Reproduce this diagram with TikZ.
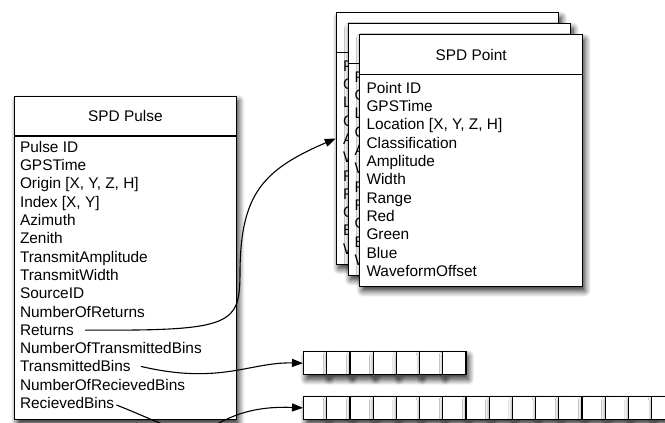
\documentclass[tikz,border=0pt]{standalone}
\usepackage{fontspec}
\setmainfont{Liberation Sans}
\usetikzlibrary{shadows.blur,arrows.meta}
% full point box (front)
\newcommand\mkpointbox[3]{%
  \node[box,minimum width=222.5pt,minimum height=251.5pt] (#1) at (#2,#3) {};
  \draw[line width=1.1pt] ([yshift=-40.5pt]#1.north west) -- ([yshift=-40.5pt]#1.north east);
  \node[hdr] (#1h) at ([yshift=-20.5pt]#1.north) {SPD Point};
  \foreach \txt [count=\i from 0] in {Point ID, GPSTime, {Location [X, Y, Z, H]}, Classification, Amplitude, Width, Range, Red, Green, Blue, WaveformOffset}
    \node[fld] (#1f\i) at ([xshift=7pt,yshift={-59pt-18.3pt*\i}]#1.north west) {\txt};
}
% point box hidden behind another one: only the first letters show
\newcommand\mkbackbox[3]{%
  \node[box,minimum width=222.5pt,minimum height=251.5pt] (#1) at (#2,#3) {};
  \draw[line width=1.1pt] ([yshift=-40.5pt]#1.north west) -- ([yshift=-40.5pt]#1.north east);
  \foreach \txt [count=\i from 0] in {P, G, L, C, A, W, R, R, G, B, W}
    \node[fld] (#1f\i) at ([xshift=7pt,yshift={-59pt-18.3pt*\i}]#1.north west) {\txt};
}
\begin{document}
\begin{tikzpicture}[x=1pt,y=-1pt,
  every node/.style={font=\fontsize{15.4}{18.3}\selectfont},
  sh/.style={blur shadow={shadow xshift=2.5pt,shadow yshift=-4.5pt,shadow blur radius=6pt,shadow blur steps=12,shadow opacity=85}},
  box/.style={draw=black,line width=1.1pt,fill=white,sh,inner sep=0pt,anchor=north west},
  cell/.style={draw=black,line width=1.1pt,fill=white,sh,inner sep=0pt,minimum width=23.2pt,minimum height=23.2pt,anchor=north west},
  fld/.style={inner sep=0pt,anchor=base west},
  hdr/.style={inner sep=0pt},
  conn/.style={line width=1.1pt,-{Triangle[length=11pt,width=8pt]}}
]
\useasboundingbox (0,0) rectangle (665,423);
\clip (0,0) rectangle (665,423);

% SPD Pulse
\node[box,minimum width=221.7pt,minimum height=323.6pt] (pulse) at (14,95.7) {};
\draw[line width=1.1pt] ([yshift=-40.3pt]pulse.north west) -- ([yshift=-40.3pt]pulse.north east);
\node[hdr] (pulseh) at ([yshift=-20.3pt]pulse.north) {SPD Pulse};
\foreach \txt [count=\i from 0] in {Pulse ID, GPSTime, {Origin [X, Y, Z, H]}, {Index [X, Y]}, Azimuth, Zenith, TransmitAmplitude, TransmitWidth, SourceID, NumberOfReturns, Returns, NumberOfTransmittedBins, TransmittedBins, NumberOfRecievedBins, RecievedBins}
  \node[fld] (pf\i) at (19.8,{152.3+18.3*\i}) {\txt};

% SPD Point stack
\mkbackbox{pb1}{335.8}{12.2}
\mkbackbox{pb2}{347.5}{23.3}
\mkpointbox{pb3}{359.3}{34.3}

% bins
\foreach \i in {1,...,7}
  \node[cell] (t\i) at ({303+23.2*(\i-1)},351) {};
\foreach \i in {1,...,16}
  \node[cell] (r\i) at ({303+23.2*(\i-1)},395.7) {};

% connectors
\draw[conn] ([xshift=11pt]pf10.east) .. controls (235,331) and (240,325) .. (240,270)
  .. controls (241,195) and (262,170) .. (pb1.west);
\draw[conn] ([xshift=10pt]pf12.east) .. controls (220,385) and (250,362) .. (t1.west);
\draw[conn] ([xshift=2pt,yshift=-2pt]pf14.east) .. controls (150,418) and (175,432) .. (193,432)
  .. controls (215,432) and (230,405) .. (r1.west);
\end{tikzpicture}
\end{document}
